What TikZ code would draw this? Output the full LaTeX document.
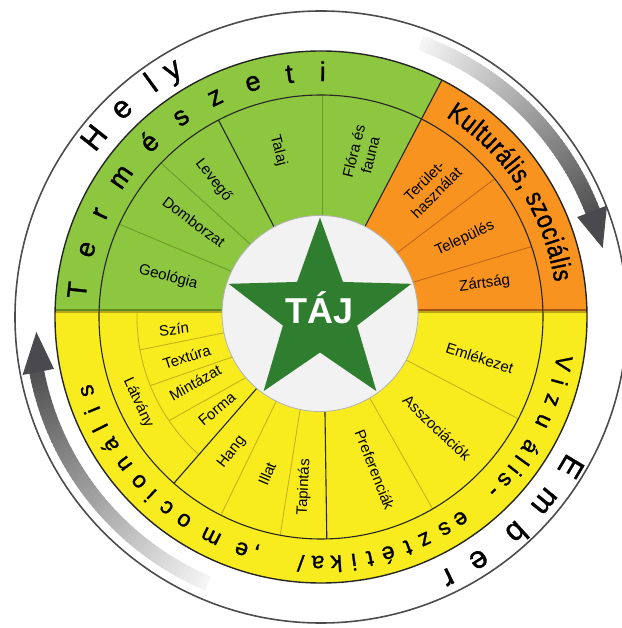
\documentclass[tikz,border=0pt]{standalone}
\usepackage{fontspec}
\setmainfont{Liberation Sans}
\newfontfamily\narrowfont[FakeStretch=0.82,FakeBold=1.2]{Liberation Sans}
\newfontfamily\ringfont[FakeBold=1.2]{Liberation Sans}
\usetikzlibrary{decorations.text}
\definecolor{wgreen}{HTML}{8DC63F}
\definecolor{worange}{HTML}{F7931E}
\definecolor{wyellow}{HTML}{F8EC1E}
\definecolor{stargreen}{HTML}{2F7E30}
\definecolor{gline}{HTML}{6E9C2C}
\definecolor{oline}{HTML}{C2661A}
\definecolor{yline}{HTML}{C4B41A}
\definecolor{gdark}{HTML}{5F8A25}
\definecolor{odark}{HTML}{A4561A}
\definecolor{olivec}{HTML}{B8A818}
\definecolor{whitedisc}{HTML}{F2F2F2}
\definecolor{arrowgray}{HTML}{4A4A4E}
\tikzset{
  darkline/.style={draw=black!85, line width=1.1pt},
  glight/.style={draw=gline, line width=0.9pt},
  olight/.style={draw=oline, line width=0.9pt},
  ylight/.style={draw=yline, line width=0.9pt},
  ringltr/.style={anchor=base, inner sep=0pt, outer sep=0pt},
  sublbl/.style={inner sep=0pt, align=center, font=\fontsize{15}{17}\selectfont},
}
\begin{document}
\begin{tikzpicture}[x=1pt,y=1pt]
\useasboundingbox (-321,-311) rectangle (300,317);
\fill[white] (-321,-311) rectangle (300,317);

% outer thin ring
\draw[draw=black!70, line width=1.6pt] (0,0) circle[radius=306];

% top-right arrow
\foreach \i in {0,...,59}{
  \pgfmathsetmacro\a{70-\i*49/60}
  \pgfmathsetmacro\b{\a-49/60-0.4}
  \pgfmathsetmacro\p{4+\i*64/59}
  \fill[black!\p!white] (\a:284) arc[start angle=\a,end angle=\b,radius=284] -- (\b:299) arc[start angle=\b,end angle=\a,radius=299] -- cycle;
}
\fill[arrowgray] (21.3:275) -- (21.3:307) -- (13.75:290) -- cycle;
% bottom-left arrow
\foreach \i in {0,...,59}{
  \pgfmathsetmacro\a{247-\i*56/60}
  \pgfmathsetmacro\b{\a-56/60-0.4}
  \pgfmathsetmacro\p{4+\i*64/59}
  \fill[black!\p!white] (\a:282) arc[start angle=\a,end angle=\b,radius=282] -- (\b:297) arc[start angle=\b,end angle=\a,radius=297] -- cycle;
}
\fill[arrowgray] (191:272) -- (191:304) -- (183:285) -- cycle;

% wheel
\begin{scope}
\clip (0,0) circle[radius=266];
\fill[wyellow] (-270,-270) rectangle (270,270);
\fill[wgreen] (-270,6) rectangle (270,270);
\fill[worange] (-0.3,6) -- (139.2,271.6) -- (270,271.6) -- (270,6) -- cycle;
% light separators
\draw[glight] (152.7:95) -- (155.3:222);
\draw[glight] (133.9:95) -- (136.1:222);
\draw[glight] (1,95) -- (1,222);
\draw[olight] (40.3:95) -- (38.5:222);
\draw[olight] (20.8:95) -- (18.5:222);
\draw[ylight] (-26.8:95) -- (-27.3:222);
\draw[ylight] (-59:95) -- (-59.8:222);
\draw[ylight] (-102.7:95) -- (-100.6:222);
\draw[ylight] (-118:95) -- (-116.8:222);
\draw[ylight] (178:184) arc[start angle=178, end angle=228.3, radius=184];
\draw[ylight] (189.2:95) -- (190.3:184);
\draw[ylight] (204.4:95) -- (201.9:184);
\draw[ylight] (219:95) -- (214.3:184);
% divider
\draw[gdark, line width=1.3pt] (-270,7) -- (-0.3,7);
\draw[odark, line width=1.3pt] (-0.3,7) -- (270,7);
\draw[olivec, line width=1.5pt] (-270,5) -- (270,5);
\end{scope}

% dark lines
\draw[darkline] (0,0) circle[radius=222];
\draw[darkline] (41.5,85.7) -- (121,237.1);
\draw[darkline] (117.5:95) -- (117.5:222);
\draw[darkline] (-87.6:95) -- (-88.5:222);
\draw[darkline] (-132:95) -- (-131.5:222);
\draw[draw=black!85, line width=1.4pt] (0,0) circle[radius=266];

% centre
\filldraw[fill=whitedisc, draw=black!30, line width=0.8pt] (-1,3.5) circle[radius=98];
\fill[stargreen, shift={(-1,3.5)}] (90:96) -- (126:39) -- (162:96) -- (198:39) -- (234:96) -- (270:39) -- (306:96) -- (342:39) -- (18:96) -- (54:39) -- cycle;
\node[anchor=base, inner sep=0pt, text=white, font=\bfseries\fontsize{36}{36}\selectfont] (taj) at (-1,-6.4) {TÁJ};

% outer ring texts
\foreach \a/\c [count=\i] in {141.7/H, 133.7/e, 126/l, 121/y}
  \node[ringltr, rotate=\a-90, font=\ringfont\fontsize{31}{31}\selectfont] (hely\i) at (\a:279) {\c};
\foreach \a/\c [count=\i] in {-30.9/E, -39.5/m, -47.8/b, -57/e, -64/r}
  \node[ringltr, rotate=\a-90, font=\ringfont\fontsize{31}{31}\selectfont] (ember\i) at (\a:281) {\c};
\foreach \a/\c [count=\i] in {173.7/T, 163.9/e, 154.9/r, 145.0/m, 134.5/é, 125.0/s, 115.7/z, 106.2/e, 97.4/t, 89.6/i}
  \node[ringltr, rotate=\a-90, font=\ringfont\fontsize{27}{27}\selectfont] (term\i) at (\a:236) {\c};
\foreach \a/\c [count=\i] in {-10.8/V, -15.3/i, -19.8/z, -25.1/u, -31.9/á, -35.5/l, -38.4/i, -41.5/s, -45.3/-, -55.3/e, -59.7/s, -65/z, -69.3/t, -74.1/é, -78.5/t, -82.3/i, -86.4/k, -90.7/a, -108.9/e, -116.6/m, -124/o, -129/c, -133.7/i, -137.9/o, -143.3/n, -148.7/á, -153.3/l, -157.8/i, -162.5/s}
  \node[ringltr, rotate=\a-90, font=\ringfont\fontsize{23}{23}\selectfont] (viz\i) at (\a:239) {\c};
\node[ringltr, rotate=-184.7, font=\ringfont\fontsize{23}{23}\selectfont] (vizslash) at (-94.7:239) {/};
\node[ringltr, rotate=-195.4, font=\ringfont\fontsize{23}{23}\selectfont] (vizcomma) at (-105.4:239) {,};
\path[decorate, decoration={text along path, text={|\narrowfont\fontsize{27}{27}\selectfont|Kulturális, szociális}, text align={fit to path}}] (58:236) arc[start angle=58, end angle=8.5, radius=236];

% sub labels
\node[sublbl, rotate=-14.7] (geol) at (165.3:158) {Geológia};
\node[sublbl, rotate=-36.8] (domb) at (143.2:158.6) {Domborzat};
\node[sublbl, rotate=-51.8] (leve) at (128.2:174) {Levegő};
\node[sublbl, rotate=-75.6] (tala) at (104.4:172) {Talaj};
\node[sublbl, rotate=76] (flora) at (76:169) {Flóra és\\fauna};
\node[sublbl, rotate=45] (terul) at (50:170) {Terület-\\használat};
\node[sublbl, rotate=25] (telep) at (28.7:164) {Település};
\node[sublbl, rotate=7] (zart) at (11.4:167) {Zártság};
\node[sublbl, rotate=-18] (emlek) at (-14.5:164) {Emlékezet};
\node[sublbl, rotate=-43.5] (asszoc) at (-43.7:160.5) {Asszociációk};
\node[sublbl, rotate=-68.5] (pref) at (-70.6:162) {Preferenciák};
\node[sublbl, rotate=87] (tapint) at (-95.7:171) {Tapintás};
\node[sublbl, rotate=67] (illat) at (-109:166) {Illat};
\node[sublbl, rotate=52] (hang) at (-123.4:162) {Hang};
\node[sublbl, rotate=40] (forma) at (221.5:139) {Forma};
\node[sublbl, rotate=29] (mintaz) at (207.6:142) {Mintázat};
\node[sublbl, rotate=18] (textura) at (196.6:140) {Textúra};
\node[sublbl, rotate=6] (szin) at (184.7:147.5) {Szín};
\node[sublbl, rotate=-65] (latvany) at (205.2:202) {Látvány};
\end{tikzpicture}
\end{document}
